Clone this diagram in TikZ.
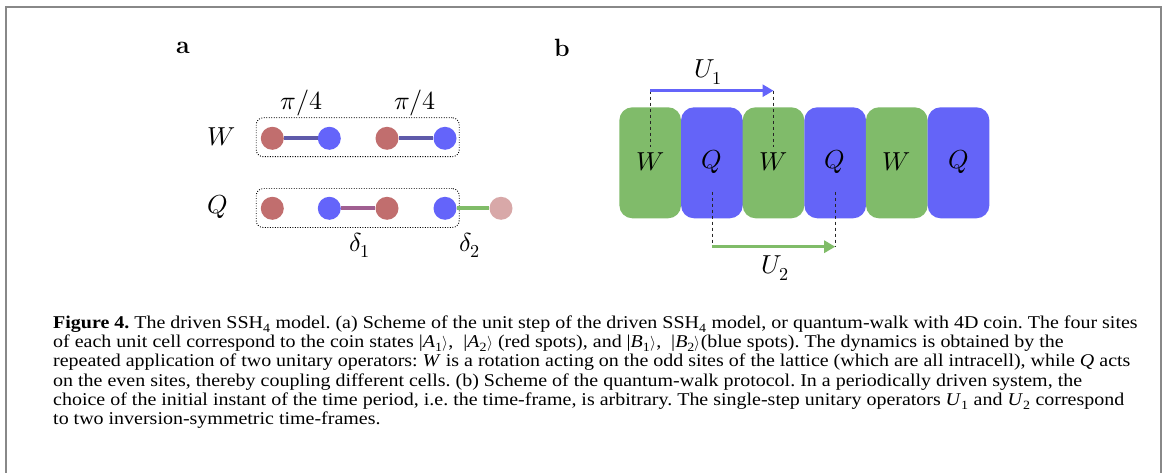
\documentclass[tikz,border=0pt]{standalone}
\usepackage{fontspec}
\usepackage{unicode-math}
\newfontfamily\capfont{Liberation Serif}[FakeStretch=1.11]
\usetikzlibrary{arrows.meta}
\definecolor{sitered}{RGB}{193,110,110}
\definecolor{siteblue}{RGB}{100,100,250}
\definecolor{sitepale}{RGB}{216,168,168}
\definecolor{linkW}{RGB}{95,90,170}
\definecolor{linkD}{RGB}{160,95,145}
\definecolor{linkG}{RGB}{128,188,104}
\definecolor{cellgreen}{RGB}{128,187,106}
\definecolor{cellblue}{RGB}{100,100,248}
\definecolor{framegray}{RGB}{136,136,136}
\newcommand{\ket}[2]{|\textit{#1}\textsubscript{#2}{\fontsize{15}{15}\selectfont$\rangle$}}
\frenchspacing
\begin{document}
\begin{tikzpicture}[x=1pt,y=-1pt,
  site/.style={circle, inner sep=0pt, minimum size=23pt, fill=#1},
  link/.style={line width=4pt, draw=#1},
  cell/.style={rectangle, rounded corners=13pt, minimum width=61.7pt, minimum height=111pt, inner sep=0pt, fill=#1},
  dashv/.style={dash pattern=on 3pt off 3pt, line width=0.8pt, draw=black!85},
  arr/.style={line width=3pt, draw=#1, -{Triangle[length=11pt,width=12pt]}},
  dotbox/.style={draw, dash pattern=on 0.9pt off 1.6pt, line width=0.9pt, rounded corners=7pt, minimum width=203pt, minimum height=39pt, inner sep=0pt},
  lab/.style={inner sep=0pt, font=\fontsize{26}{30}\selectfont},
  panel/.style={inner sep=0pt, font=\fontsize{25}{30}\selectfont\bfseries},
  captext/.style={anchor=base west, inner sep=0pt, text height=13pt, text depth=4pt, font=\capfont\fontsize{18}{19}\selectfont}]
\useasboundingbox (0,0) rectangle (1166,473);
\fill[white] (0,0) rectangle (1166,473);
\draw[framegray, line width=2pt] (6,473) -- (6,7.5) -- (1160.5,7.5) -- (1160.5,473);

% panel labels
\node[panel] (pa) at (183,48) {a};
\node[panel] (pb) at (562,48) {b};

% ---- panel a ----
\node[dotbox] (wbox) at (357.7,137.2) {};
\node[dotbox] (qbox) at (357.7,208) {};
\node[lab] (lW) at (221.7,137) {$W$};
\node[lab] (lQ) at (218,207) {$Q$};
\node[lab] (pi1) at (301.7,103) {$\pi/4$};
\node[lab] (pi2) at (415,103) {$\pi/4$};
\node[lab] (d1) at (360,245) {$\delta_1$};
\node[lab] (d2) at (470,245) {$\delta_2$};

\node[site=sitered] (w1) at (272.3,138.3) {};
\node[site=siteblue] (w2) at (329.3,138.3) {};
\node[site=sitered] (w3) at (387,138.3) {};
\node[site=siteblue] (w4) at (445,138.3) {};
\draw[link=linkW] (w1.east) -- (w2.west);
\draw[link=linkW] (w3.east) -- (w4.west);

\node[site=sitered] (q1) at (272.3,208.3) {};
\node[site=siteblue] (q2) at (329.3,208.3) {};
\node[site=sitered] (q3) at (387,208.3) {};
\node[site=siteblue] (q4) at (445,208.3) {};
\node[site=sitepale] (q5) at (501,208.3) {};
\draw[link=linkD] (q2.east) -- (q3.west);
\draw[link=linkG] (q4.east) -- (q5.west);

% ---- panel b ----
\node[cell=cellgreen] (c1) at (650.2,162.8) {};
\node[cell=cellblue]  (c2) at (711.9,162.8) {};
\node[cell=cellgreen] (c3) at (773.5,162.8) {};
\node[cell=cellblue]  (c4) at (835.2,162.8) {};
\node[cell=cellgreen] (c5) at (896.8,162.8) {};
\node[cell=cellblue]  (c6) at (958.5,162.8) {};
\node[lab] (t1) at (650.2,162) {$W$};
\node[lab] (t2) at (711.9,162) {$Q$};
\node[lab] (t3) at (773.5,162) {$W$};
\node[lab] (t4) at (835.2,162) {$Q$};
\node[lab] (t5) at (896.8,162) {$W$};
\node[lab] (t6) at (958.5,162) {$Q$};

\coordinate (u1a) at (650.2,90.7);
\coordinate (u1b) at (773.5,90.7);
\coordinate (e1) at (650.2,146.7);
\coordinate (e3) at (773.5,146.7);
\coordinate (u2a) at (711.9,246.7);
\coordinate (u2b) at (835.2,246.7);
\coordinate (e2) at (711.9,191.7);
\coordinate (e4) at (835.2,191.7);
\draw[dashv] (u1a) -- (e1);
\draw[dashv] (u1b) -- (e3);
\draw[dashv] (e2) -- (u2a);
\draw[dashv] (e4) -- (u2b);
\draw[arr=siteblue] (u1a) -- (u1b);
\draw[arr=linkG] (u2a) -- (u2b);
\node[lab] (U1) at (708,72) {$U_1$};
\node[lab] (U2) at (775,268) {$U_2$};

% ---- caption ----
\node[captext] (l1) at (53,328.3) {\textbf{Figure 4.} The driven SSH\textsubscript{4} model. (a) Scheme of the unit step of the driven SSH\textsubscript{4} model, or quantum-walk with 4D coin. The four sites};
\node[captext] (l2) at (53,347.5) {of each unit cell correspond to the coin states \ket{A}{1},\ \ \ket{A}{2} (red spots), and \ket{B}{1},\ \ \ket{B}{2}(blue spots). The dynamics is obtained by the};
\node[captext] (l3) at (53,366.7) {repeated application of two unitary operators: \textit{W} is a rotation acting on the odd sites of the lattice (which are all intracell), while \textit{Q} acts};
\node[captext] (l4) at (53,386) {on the even sites, thereby coupling different cells. (b) Scheme of the quantum-walk protocol. In a periodically driven system, the};
\node[captext] (l5) at (53,405.2) {choice of the initial instant of the time period, i.e. the time-frame, is arbitrary. The single-step unitary operators \textit{U}\textsubscript{1} and \textit{U}\textsubscript{2} correspond};
\node[captext] (l6) at (53,424.4) {to two inversion-symmetric time-frames.};
\end{tikzpicture}
\end{document}
